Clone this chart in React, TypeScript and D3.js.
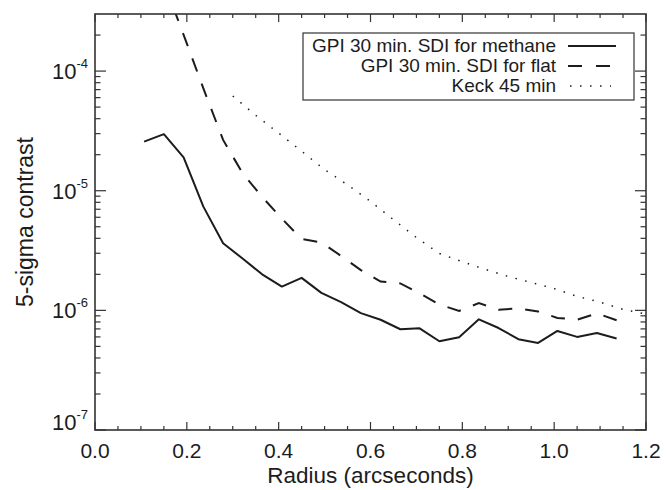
import React from 'react';
import * as d3 from 'd3';

// radius grid of the GPI curves (arcsec)
const radius = [0.107, 0.150, 0.193, 0.236, 0.279, 0.322, 0.364, 0.407, 0.450, 0.493, 0.536, 0.579, 0.622,
  0.665, 0.707, 0.750, 0.793, 0.836, 0.879, 0.922, 0.965, 1.007, 1.050, 1.093, 1.136];

// GPI 30 min. SDI for methane
const methane = [2.57e-5, 2.97e-5, 1.90e-5, 7.36e-6, 3.64e-6, 2.70e-6, 2.00e-6, 1.58e-6, 1.87e-6, 1.40e-6,
  1.17e-6, 9.49e-7, 8.35e-7, 6.95e-7, 7.08e-7, 5.52e-7, 5.96e-7, 8.41e-7, 7.12e-7, 5.74e-7, 5.34e-7,
  6.73e-7, 6.00e-7, 6.47e-7, 5.81e-7];

// GPI 30 min. SDI for flat (starts one step later, above the top of the plot)
const flat = [null, 5.5e-4, 2.01e-4, 7.16e-5, 2.66e-5, 1.39e-5, 8.88e-6, 5.84e-6, 3.95e-6, 3.69e-6, 2.85e-6,
  2.17e-6, 1.74e-6, 1.68e-6, 1.39e-6, 1.12e-6, 9.9e-7, 1.15e-6, 1.01e-6, 1.04e-6, 9.8e-7, 8.65e-7,
  8.34e-7, 9.45e-7, 8.26e-7];

// Keck 45 min
const keckRadius = [0.30, 0.35, 0.40, 0.45, 0.50, 0.55, 0.60, 0.65, 0.70, 0.75, 0.80, 0.85, 0.90, 0.95,
  1.00, 1.05, 1.10, 1.15, 1.20];
const keck = [6.19e-5, 4.27e-5, 3.03e-5, 2.14e-5, 1.50e-5, 1.12e-5, 8.15e-6, 5.73e-6, 4.06e-6, 2.99e-6,
  2.55e-6, 2.20e-6, 1.92e-6, 1.71e-6, 1.52e-6, 1.31e-6, 1.17e-6, 1.02e-6, 9.3e-7];

const xTickLabels = ['0.0', '0.2', '0.4', '0.6', '0.8', '1.0', '1.2'];
const yExponents = [-7, -6, -5, -4];

const legendItems = [
  { label: 'GPI 30 min. SDI for methane', dash: 'none' },
  { label: 'GPI 30 min. SDI for flat', dash: '14 14' },
  { label: 'Keck 45 min', dash: '1.5 8.5' },
];

const FONT = '"Liberation Sans", Arial, Helvetica, sans-serif';
const INK = '#1c1c1c';
const AXIS = '#333';

export default function App() {
  const width = 666;
  const height = 490;
  const m = { left: 95, right: 646, top: 14, bottom: 430 };

  const x = d3.scaleLinear().domain([0, 1.2]).range([m.left, m.right]);
  const y = d3.scaleLog().domain([1e-7, 3e-4]).range([m.bottom, m.top]);

  const xMajor = d3.range(0, 7).map(i => i * 0.2);
  const xMinor = d3.range(0, 25).map(i => i * 0.05).filter((_, i) => i % 4 !== 0);
  const yMajor = yExponents.map(e => Math.pow(10, e));
  const yMinor: number[] = [];
  yExponents.forEach(e => {
    for (let k = 2; k <= 9; k++) {
      const v = k * Math.pow(10, e);
      if (v <= 3e-4) yMinor.push(v);
    }
  });

  const line = d3.line<[number, number | null]>()
    .defined(d => d[1] != null)
    .x(d => x(d[0]))
    .y(d => y(d[1] as number));

  const methanePath = line(radius.map((r, i) => [r, methane[i]]));
  const flatPath = line(radius.map((r, i) => [r, flat[i]]));
  const keckPath = line(keckRadius.map((r, i) => [r, keck[i]]));

  const legend = { x0: 303, y0: 33, x1: 634, y1: 100 };

  return (
    <svg width={width} height={height} style={{ position: 'absolute', left: 0, top: 0, background: '#fff' }}
      fontFamily={FONT}>
      <defs>
        <clipPath id="plot-clip">
          <rect x={m.left} y={m.top} width={m.right - m.left} height={m.bottom - m.top} />
        </clipPath>
      </defs>

      {/* data */}
      <g clipPath="url(#plot-clip)" fill="none" stroke={INK}>
        <path d={methanePath || ''} strokeWidth={2} strokeLinejoin="round" />
        <path d={flatPath || ''} strokeWidth={2} strokeDasharray="14 13" />
        <path d={keckPath || ''} strokeWidth={1.5} strokeDasharray="1.5 8.5" />
      </g>

      {/* ticks */}
      <g stroke={AXIS} strokeWidth={1.2}>
        {xMajor.map(v => (
          <g key={'xm' + v}>
            <line x1={x(v)} x2={x(v)} y1={m.bottom} y2={m.bottom - 8} />
            <line x1={x(v)} x2={x(v)} y1={m.top} y2={m.top + 8} />
          </g>
        ))}
        {xMinor.map(v => (
          <g key={'xn' + v}>
            <line x1={x(v)} x2={x(v)} y1={m.bottom} y2={m.bottom - 4} />
            <line x1={x(v)} x2={x(v)} y1={m.top} y2={m.top + 4} />
          </g>
        ))}
        {yMajor.map(v => (
          <g key={'ym' + v}>
            <line x1={m.left} x2={m.left + 11} y1={y(v)} y2={y(v)} />
            <line x1={m.right} x2={m.right - 11} y1={y(v)} y2={y(v)} />
          </g>
        ))}
        {yMinor.map(v => (
          <g key={'yn' + v}>
            <line x1={m.left} x2={m.left + 5.5} y1={y(v)} y2={y(v)} />
            <line x1={m.right} x2={m.right - 5.5} y1={y(v)} y2={y(v)} />
          </g>
        ))}
      </g>

      {/* frame */}
      <rect x={m.left} y={m.top} width={m.right - m.left} height={m.bottom - m.top}
        fill="none" stroke={AXIS} strokeWidth={1.6} />

      {/* x tick labels */}
      <g fontSize={21} fill={INK} textAnchor="middle">
        {xMajor.map((v, i) => (
          <text key={'xl' + i} x={x(v)} y={458}>{xTickLabels[i]}</text>
        ))}
      </g>

      {/* y tick labels */}
      <g fill={INK} textAnchor="end">
        {yMajor.map((v, i) => (
          <text key={'yl' + i} x={88} y={Math.min(y(v) + 8, m.bottom)} fontSize={22}>
            10<tspan dy={-11} fontSize={13}>{yExponents[i]}</tspan>
          </text>
        ))}
      </g>

      {/* axis titles */}
      <text x={(m.left + m.right) / 2} y={483} fontSize={22.5} fill={INK} textAnchor="middle">
        Radius (arcseconds)
      </text>
      <text transform={`translate(33, ${(m.top + m.bottom) / 2}) rotate(-90)`} fontSize={23} fill={INK}
        textAnchor="middle">
        5-sigma contrast
      </text>

      {/* legend */}
      <rect x={legend.x0} y={legend.y0} width={legend.x1 - legend.x0} height={legend.y1 - legend.y0}
        fill="#fff" stroke={AXIS} strokeWidth={1.2} />
      {legendItems.map((d, i) => {
        const ly = 46 + i * 20;
        return (
          <g key={d.label}>
            <text x={556} y={ly + 6} fontSize={19} fill={INK} textAnchor="end">{d.label}</text>
            <line x1={d.dash === '1.5 8.5' ? 570 : 568} x2={d.dash === 'none' ? 616 : 611} y1={ly} y2={ly}
              stroke={INK} strokeWidth={d.dash === '1.5 8.5' ? 1.5 : 2}
              strokeDasharray={d.dash === 'none' ? undefined : d.dash} />
          </g>
        );
      })}
    </svg>
  );
}
